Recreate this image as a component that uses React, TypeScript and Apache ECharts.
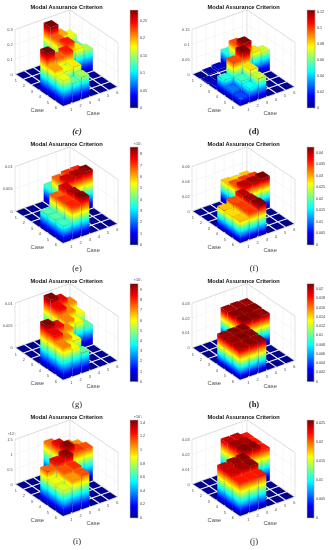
import React, { useEffect, useRef } from "react";
import * as echarts from "echarts";

const caseLabels = ["1", "2", "3", "4", "5", "6"];
const titleText = "Modal Assurance Criterion";
const axisName = "Case";

// Off-diagonal 3x3 blocks: rows 4..6 by columns 1..3 (mirrored into rows 1..3 by columns 4..6)
const blockC = [[0.28, 0.22, 0.24], [0.2, 0.17, 0.18], [0.17, 0.13, 0.15]];
const blockD = [[0.05, 0.098, 0.122], [0.03, 0.054, 0.08], [0.024, 0.048, 0.07]];
const blockE = [[0.0039, 0.0068, 0.008], [0.004, 0.0072, 0.0083], [0.0038, 0.0073, 0.0086]];
const blockF = [[0.029, 0.034, 0.04], [0.028, 0.035, 0.041], [0.029, 0.035, 0.0424]];
const blockG = [[0.0096, 0.0086, 0.0072], [0.0086, 0.0072, 0.006], [0.0072, 0.006, 0.0045]];
const blockH = [[0.0206, 0.021, 0.0212], [0.0208, 0.0212, 0.021], [0.0206, 0.021, 0.0208]];
const blockI = [[0.00112, 0.0013, 0.00142], [0.00088, 0.00115, 0.0012], [0.00085, 0.00105, 0.00115]];
const blockJ = [[0.024, 0.0252, 0.0258], [0.024, 0.025, 0.0255], [0.0222, 0.0222, 0.0222]];

// Small cells in the lower-left block of panel d: [row, col, value]
const extraD = [[1, 2, 0.004], [1, 3, 0.009], [2, 1, 0.004], [3, 1, 0.009]];

const zTicksC = ["0", "0.1", "0.2", "0.3"];
const zTicksD = ["0", "0.05", "0.1", "0.15"];
const zTicksE = ["0", "0.005", "0.01"];
const zTicksF = ["0", "0.02", "0.04", "0.06"];
const zTicksH = ["0", "0.01", "0.02", "0.03"];
const zTicksI = ["0", "0.5", "1", "1.5"];

const zMaxes = [0.3, 0.15, 0.01, 0.06, 0.01, 0.03, 0.0015, 0.03];
const colorMaxes = [0.28, 0.122, 0.00865, 0.0424, 0.00962, 0.0212, 0.00144, 0.0259];
const colorSteps = [0.05, 0.02, 0.001, 0.005, 0.001, 0.002, 0.0002, 0.005];
const colorScales = [1, 1, 1000, 1, 1000, 1, 1000, 1];
const captions = ["(c)", "(d)", "(e)", "(f)", "(g)", "(h)", "(i)", "(j)"];
const captionWeights = ["bold", "bold", "normal", "normal", "normal", "bold", "normal", "normal"];
const captionStyles = ["italic", "normal", "normal", "normal", "normal", "normal", "normal", "normal"];

const blocks = [blockC, blockD, blockE, blockF, blockG, blockH, blockI, blockJ];
const zTicks = [zTicksC, zTicksD, zTicksE, zTicksF, zTicksE, zTicksH, zTicksI, zTicksH];

// layout
const colX = [15, 192];
const rowY = [74, 211, 347.7, 484];
const capX = [77, 254];
const FX = 48, FY = 32.7, RX = 103, RY = 13, HZ = 44.5;
const BAR = 0.43;

const jetKnots: [number, number[]][] = [
  [0, [0, 0, 143]],
  [0.125, [0, 0, 255]],
  [0.375, [0, 255, 255]],
  [0.625, [255, 255, 0]],
  [0.875, [255, 0, 0]],
  [1, [128, 0, 0]],
];

function jet(t: number) {
  const v = Math.max(0, Math.min(1, t));
  for (let i = 1; i < jetKnots.length; i++) {
    const [p1, c1] = jetKnots[i];
    const [p0, c0] = jetKnots[i - 1];
    if (v <= p1) {
      const k = (v - p0) / (p1 - p0);
      const c = c0.map((a, j) => Math.round(a + (c1[j] - a) * k));
      return `rgb(${c[0]},${c[1]},${c[2]})`;
    }
  }
  return "rgb(128,0,0)";
}

const jetStops = jetKnots.map(([p]) => ({ offset: p, color: jet(p) }));

function partialStops(T: number) {
  const s = jetKnots.filter(([p]) => p < T).map(([p]) => ({ offset: p / T, color: jet(p) }));
  s.push({ offset: 1, color: jet(T) });
  return s;
}

function scene(r: number, c: number, zf: number) {
  return [
    (FX * (r - 0.5)) / 6 + ((RX - FX) * (c - 0.5)) / 6,
    (FY * (r - 0.5)) / 6 + ((RY - FY) * (c - 0.5)) / 6 - HZ * zf,
  ];
}

function cellsFor(i: number) {
  const out: number[][] = [];
  const b = blocks[i];
  for (let r = 1; r <= 6; r++) {
    for (let c = 1; c <= 6; c++) {
      let v = 0;
      if (r >= 4 && c <= 3) v = b[r - 4][c - 1];
      if (r <= 3 && c >= 4) v = b[c - 4][r - 1];
      if (i === 1) extraD.forEach((e) => { if (e[0] === r && e[1] === c) v = e[2]; });
      out.push([r, c, v]);
    }
  }
  return out.sort((a, d) => a[0] - a[1] - (d[0] - d[1]));
}

function faceGradient(base: number[], edgeEnd: number[], top: number[], T: number) {
  const ex = edgeEnd[0] - base[0];
  const ey = edgeEnd[1] - base[1];
  const len = Math.hypot(ex, ey) || 1;
  const nx = -ey / len;
  const ny = ex / len;
  const d = (top[0] - base[0]) * nx + (top[1] - base[1]) * ny;
  return new echarts.graphic.LinearGradient(
    base[0], base[1], base[0] + nx * d, base[1] + ny * d, partialStops(T), true
  );
}

function makeBars(i: number) {
  const zMax = zMaxes[i];
  const cMax = colorMaxes[i];
  return (_p: any, api: any) => {
    const r = api.value(0), c = api.value(1), v = api.value(2);
    const zf = v / zMax;
    const T = v / cMax;
    const P = (rr: number, cc: number, z: number) => api.coord(scene(rr, cc, z));
    const r0 = r - BAR, r1 = r + BAR, c0 = c - BAR, c1 = c + BAR;
    const edge = { stroke: "rgba(30,30,30,0.2)", lineWidth: 0.3 };
    const children: any[] = [];
    if (v > 0) {
      const a = P(r0, c0, 0), b = P(r1, c0, 0), bt = P(r1, c0, zf), at = P(r0, c0, zf);
      children.push({
        type: "polygon",
        shape: { points: [a, b, bt, at] },
        style: { fill: faceGradient(a, b, at, T), ...edge },
      });
      const e = P(r1, c1, 0), et = P(r1, c1, zf);
      children.push({
        type: "polygon",
        shape: { points: [b, e, et, bt] },
        style: { fill: faceGradient(b, e, bt, T), ...edge },
      });
    }
    children.push({
      type: "polygon",
      shape: { points: [P(r0, c0, zf), P(r1, c0, zf), P(r1, c1, zf), P(r0, c1, zf)] },
      style: { fill: jet(T), ...edge },
    });
    return { type: "group", children };
  };
}

function makeFrame(i: number) {
  const ticks = zTicks[i];
  const zCount = ticks.length - 1;
  const big = i === 6;
  return (_p: any, api: any) => {
    const P = (r: number, c: number, z: number) => api.coord(scene(r, c, z));
    const children: any[] = [];
    const line = (a: number[], b: number[], color: string, w = 0.5) =>
      children.push({
        type: "line",
        shape: { x1: a[0], y1: a[1], x2: b[0], y2: b[1] },
        style: { stroke: color, lineWidth: w },
      });
    const grid = "#ececec";
    const edge = "#c4c4c4";
    const lo = 0.5, hi = 6.5;
    for (let k = 1; k <= 6; k++) {
      line(P(k, hi, 0), P(k, hi, 1), grid);
      line(P(lo, k, 0), P(lo, k, 1), grid);
    }
    ticks.forEach((t, k) => {
      const z = k / zCount;
      if (k > 0) {
        line(P(lo, lo, z), P(lo, hi, z), grid);
        line(P(lo, hi, z), P(hi, hi, z), grid);
      }
      const q = P(lo, lo, z);
      children.push({
        type: "text",
        style: {
          text: t, x: q[0] - 2.4, y: q[1], fontSize: 3.9, fontFamily: "Liberation Sans",
          fill: "#4a4a4a", align: "right", verticalAlign: "middle",
        },
      });
    });
    line(P(lo, lo, 0), P(lo, lo, 1), edge);
    line(P(lo, hi, 0), P(lo, hi, 1), edge);
    line(P(hi, hi, 0), P(hi, hi, 1), edge);
    line(P(lo, lo, 1), P(lo, hi, 1), edge);
    line(P(lo, hi, 1), P(hi, hi, 1), edge);
    line(P(lo, lo, 0), P(lo, hi, 0), edge);
    line(P(lo, hi, 0), P(hi, hi, 0), edge);
    line(P(lo, lo, 0), P(hi, lo, 0), edge);
    line(P(hi, lo, 0), P(hi, hi, 0), edge);
    caseLabels.forEach((t, k) => {
      const a = P(k + 1, lo, 0);
      const b = P(hi, k + 1, 0);
      children.push({
        type: "text",
        style: { text: t, x: a[0] - 3.2, y: a[1] + 3.6, fontSize: 3.9, fontFamily: "Liberation Sans", fill: "#4a4a4a", align: "center", verticalAlign: "middle" },
      });
      children.push({
        type: "text",
        style: { text: t, x: b[0] + 3.8, y: b[1] + 4, fontSize: 3.9, fontFamily: "Liberation Sans", fill: "#4a4a4a", align: "center", verticalAlign: "middle" },
      });
    });
    const o = P(lo, lo, 0);
    children.push({
      type: "text",
      style: { text: axisName, x: o[0] + 22.3, y: o[1] + 35.7, fontSize: 5.8, fontFamily: "Liberation Sans", fill: "#4f4f4f", align: "center", verticalAlign: "middle" },
    });
    children.push({
      type: "text",
      style: { text: axisName, x: o[0] + 78.2, y: o[1] + 38.7, fontSize: 5.8, fontFamily: "Liberation Sans", fill: "#4f4f4f", align: "center", verticalAlign: "middle" },
    });
    if (big) {
      const top = P(lo, lo, 1);
      children.push({
        type: "text",
        style: { text: "×10⁻³", x: top[0] + 1, y: top[1] - 5.5, fontSize: 3.6, fontFamily: "Liberation Sans", fill: "#4a4a4a", align: "right", verticalAlign: "middle" },
      });
    }
    return { type: "group", children };
  };
}

function buildOption() {
  const grids: any[] = [], xAxes: any[] = [], yAxes: any[] = [], series: any[] = [], titles: any[] = [];
  for (let i = 0; i < 8; i++) {
    const Lx = colX[i % 2];
    const Ly = rowY[Math.floor(i / 2)];
    grids.push({ left: Lx, top: Ly - 64.2, width: RX, height: 64.2 + FY, show: false });
    xAxes.push({ type: "value", gridIndex: i, min: 0, max: RX, show: false });
    yAxes.push({ type: "value", gridIndex: i, min: -64.2, max: FY, inverse: true, show: false });
    titles.push({
      text: titleText, left: Lx + 51.7, top: Ly - 67, textAlign: "center", textVerticalAlign: "middle", padding: 0,
      textStyle: { fontSize: 5.7, fontWeight: "bold", color: "#111", fontFamily: "Liberation Sans" },
    });
    titles.push({
      text: captions[i], left: capX[i % 2], top: Ly + 56.7, textAlign: "center", textVerticalAlign: "middle", padding: 0,
      textStyle: { fontSize: 8.5, fontWeight: captionWeights[i], fontStyle: captionStyles[i], color: "#222", fontFamily: "Liberation Serif" },
    });
    series.push({
      type: "custom", xAxisIndex: i, yAxisIndex: i, renderItem: makeFrame(i), data: [[0, 0]], silent: true, clip: false, z: 1,
    });
    series.push({
      type: "custom", xAxisIndex: i, yAxisIndex: i, renderItem: makeBars(i), data: cellsFor(i), silent: true, clip: false, z: 2,
    });
  }
  for (let i = 0; i < 8; i++) {
    const Lx = colX[i % 2];
    const Ly = rowY[Math.floor(i / 2)];
    const g = 8 + i;
    const scale = colorScales[i];
    grids.push({ left: Lx + 115, top: Ly - 64, width: 8, height: 98, show: false });
    xAxes.push({ type: "category", gridIndex: g, data: [""], show: false });
    yAxes.push({
      type: "value", gridIndex: g, position: "right", min: 0, max: colorMaxes[i] * scale, interval: colorSteps[i] * scale,
      splitLine: { show: false },
      axisLine: { show: true, lineStyle: { color: "#777", width: 0.3 } },
      axisTick: { show: true, inside: true, length: 1, lineStyle: { color: "#333", width: 0.3 } },
      axisLabel: {
        fontSize: 3.6, margin: 2, color: "#333", fontFamily: "Liberation Sans", showMaxLabel: false,
        formatter: (v: number) => String(parseFloat(v.toFixed(5))),
      },
      name: scale > 1 ? "×10⁻³" : "",
      nameLocation: "end", nameGap: 1.5,
      nameTextStyle: { fontSize: 3.6, color: "#333", fontFamily: "Liberation Sans", align: "center" },
    });
    series.push({
      type: "bar", xAxisIndex: g, yAxisIndex: g, data: [colorMaxes[i] * scale], barWidth: "100%", silent: true,
      itemStyle: { color: new echarts.graphic.LinearGradient(0, 1, 0, 0, jetStops), borderColor: "#777", borderWidth: 0.3 },
    });
  }
  return { animation: false, backgroundColor: "#ffffff", title: titles, grid: grids, xAxis: xAxes, yAxis: yAxes, series };
}

export default function App() {
  const ref = useRef<HTMLDivElement>(null);
  useEffect(() => {
    document.body.style.margin = "0";
    const chart = echarts.init(ref.current!, null, { renderer: "svg" });
    chart.setOption(buildOption() as any);
    return () => chart.dispose();
  }, []);
  return <div ref={ref} style={{ position: "absolute", left: 0, top: 0, width: 328, height: 550, filter: "blur(0.3px)" }} />;
}
